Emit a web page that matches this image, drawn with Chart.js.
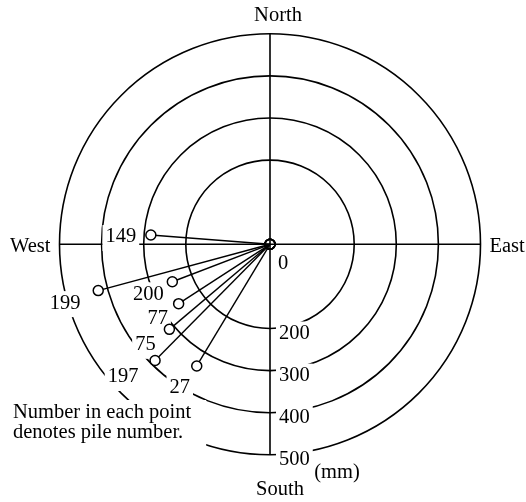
<!DOCTYPE html>
<html>
<head>
<meta charset="utf-8">
<script src="https://cdn.jsdelivr.net/npm/chart.js@4.4.1/dist/chart.umd.min.js"></script>
<style>
  html, body { margin: 0; padding: 0; background: #fff; }
  canvas { display: block; }
</style>
</head>
<body>
<canvas id="chart" width="526" height="502"></canvas>
<script>
// pile displacements, in mm (east +, north +)
const pileIds = ["149", "199", "200", "77", "75", "197", "27"];
const eastMm = [-283, -408, -232, -217, -239, -273, -174];
const northMm = [22, -110, -89, -141, -202, -276, -289];

const rings = [200, 300, 400, 500];
const axisMax = 500;
const compass = { north: "North", east: "East", south: "South", west: "West" };
const noteLines = ["Number in each point", "denotes pile number."];
const unitLabel = "(mm)";
const zeroLabel = "0";

// styling only
const FONT = '20.5px "Liberation Serif", "Times New Roman", serif';
const labelOffsets = [[-30, 2], [-33, 12.5], [-24, 12.5], [-21, 14.5], [-24, 15.5], [-32, 16.5], [-17, 22]];

function boxText(ctx, t, x, y, align) {
  const w = ctx.measureText(t).width;
  const left = align === "left" ? x : x - w / 2;
  ctx.fillStyle = "#fff";
  ctx.fillRect(left - 3, y - 12, w + 6, 26);
  return { t, x, y, align };
}

const polarGrid = {
  id: "polarGrid",
  beforeDatasetsDraw(chart) {
    const { ctx, scales: { x, y } } = chart;
    const cx = x.getPixelForValue(0), cy = y.getPixelForValue(0);
    const px = (v) => x.getPixelForValue(v) - cx;
    const R = px(axisMax);

    ctx.save();
    ctx.strokeStyle = "#000";
    ctx.lineWidth = 1.6;
    for (const v of rings) {
      ctx.beginPath();
      ctx.arc(cx, cy, px(v), 0, Math.PI * 2);
      ctx.stroke();
    }
    ctx.beginPath();
    ctx.moveTo(cx - R, cy); ctx.lineTo(cx + R, cy);
    ctx.moveTo(cx, cy - R); ctx.lineTo(cx, cy + R);
    ctx.stroke();

    ctx.font = FONT;
    ctx.textBaseline = "middle";

    // white boxes break the rings under labels, like the original
    const texts = [];
    pileIds.forEach((id, i) => {
      const [dx, dy] = labelOffsets[i];
      texts.push(boxText(ctx, id, x.getPixelForValue(eastMm[i]) + dx, y.getPixelForValue(northMm[i]) + dy, "center"));
    });
    for (const v of rings) texts.push(boxText(ctx, String(v), cx + 9, cy + px(v) + 5, "left"));

    const noteX = 13, noteY = 413;
    const noteW = Math.max(...noteLines.map((l) => ctx.measureText(l).width));
    ctx.fillStyle = "#fff";
    ctx.fillRect(noteX - 5, noteY - 13, noteW + 20, 48);

    ctx.fillStyle = "#000";
    for (const t of texts) {
      ctx.textAlign = t.align;
      ctx.fillText(t.t, t.x, t.y);
    }
    ctx.textAlign = "left";
    noteLines.forEach((l, i) => ctx.fillText(l, noteX, noteY + i * 20));

    ctx.textAlign = "center";
    ctx.fillText(compass.north, cx + 8, cy - R - 18);
    ctx.fillText(compass.south, cx + 10, cy + R + 35);
    ctx.fillText(unitLabel, cx + 67, cy + R + 18);
    ctx.fillText(zeroLabel, cx + 13, cy + 19);
    ctx.textAlign = "right";
    ctx.fillText(compass.west, cx - R - 9, cy + 2);
    ctx.textAlign = "left";
    ctx.fillText(compass.east, cx + R + 9, cy + 2);
    ctx.restore();
  },
};

const datasets = pileIds.map((id, i) => ({
  label: id,
  data: [{ x: 0, y: 0 }, { x: eastMm[i], y: northMm[i] }],
  showLine: true,
  borderColor: "#000",
  borderWidth: 1.4,
  pointRadius: 5,
  pointBorderColor: "#000",
  pointBorderWidth: 1.5,
  pointBackgroundColor: ["rgba(0,0,0,0)", "#fff"],
}));

new Chart(document.getElementById("chart"), {
  type: "scatter",
  data: { datasets },
  options: {
    responsive: false,
    animation: false,
    layout: { padding: { left: 59.5, right: 45.5, top: 33.8, bottom: 47.2 } },
    scales: {
      x: { type: "linear", min: -axisMax, max: axisMax, display: false },
      y: { type: "linear", min: -axisMax, max: axisMax, display: false },
    },
    plugins: { legend: { display: false }, tooltip: { enabled: false } },
  },
  plugins: [polarGrid],
});
</script>
</body>
</html>
